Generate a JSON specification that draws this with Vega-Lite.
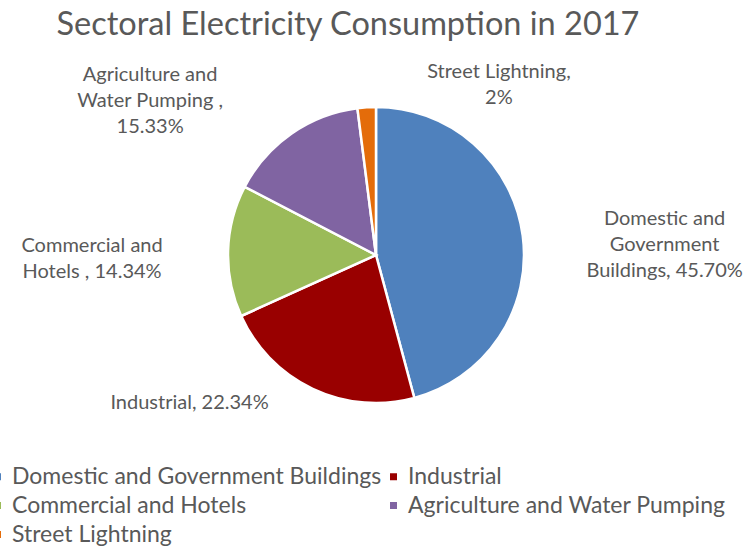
{
  "$schema": "https://vega.github.io/schema/vega-lite/v6.json",
  "autosize": {"type": "none"},
  "width": 744,
  "height": 400,
  "padding": {"left": 4, "top": 55, "right": 0, "bottom": 92},
  "background": "white",
  "title": {
    "text": "Sectoral Electricity Consumption in 2017",
    "font": "Lato",
    "fontSize": 32.5,
    "fontWeight": "normal",
    "color": "#595959",
    "anchor": "middle",
    "dx": -28,
    "offset": 14
  },
  "data": {
    "values": [
      {"sector": "Domestic and Government Buildings", "share": 45.70, "idx": 1, "label": ["Domestic and", "Government", "Buildings, 45.70%"]},
      {"sector": "Industrial", "share": 22.34, "idx": 2, "label": ["Industrial, 22.34%"]},
      {"sector": "Commercial and Hotels", "share": 14.34, "idx": 3, "label": ["Commercial and", "Hotels , 14.34%"]},
      {"sector": "Agriculture and Water Pumping", "share": 15.33, "idx": 4, "label": ["Agriculture and", "Water Pumping ,", "15.33%"]},
      {"sector": "Street Lightning", "share": 2, "idx": 5, "label": ["Street Lightning,", "2%"]}
    ]
  },
  "encoding": {
    "theta": {"field": "share", "type": "quantitative", "stack": true},
    "order": {"field": "idx", "type": "quantitative"}
  },
  "layer": [
    {
      "mark": {"type": "arc", "outerRadius": 148, "stroke": "white", "strokeWidth": 2.5},
      "encoding": {
        "color": {
          "field": "sector",
          "type": "nominal",
          "sort": ["Domestic and Government Buildings", "Industrial", "Commercial and Hotels", "Agriculture and Water Pumping", "Street Lightning"],
          "scale": {
            "domain": ["Domestic and Government Buildings", "Industrial", "Commercial and Hotels", "Agriculture and Water Pumping", "Street Lightning"],
            "range": ["#4F81BD", "#990000", "#9BBB59", "#8064A2", "#E46C0A"]
          },
          "legend": {
            "title": null,
            "orient": "none",
            "legendX": -18,
            "legendY": 410,
            "columns": 2,
            "direction": "horizontal",
            "symbolType": "square",
            "symbolSize": 49,
            "symbolStrokeWidth": 0,
            "labelFont": "Lato",
            "labelFontSize": 23,
            "labelColor": "#595959",
            "labelLimit": 500,
            "labelOffset": 3,
            "rowPadding": 5,
            "columnPadding": -6
          }
        }
      }
    },
    {
      "mark": {"type": "text", "radius": 160, "dx": 130, "dy": -15, "font": "Lato", "fontSize": 20, "color": "#595959", "lineHeight": 26, "align": "center", "baseline": "middle"},
      "encoding": {"text": {"condition": {"test": "datum.idx === 1", "field": "label"}, "value": ""}}
    },
    {
      "mark": {"type": "text", "radius": 160, "dx": -118, "dy": 3, "font": "Lato", "fontSize": 20, "color": "#595959", "lineHeight": 26, "align": "center", "baseline": "middle"},
      "encoding": {"text": {"condition": {"test": "datum.idx === 2", "field": "label"}, "value": ""}}
    },
    {
      "mark": {"type": "text", "radius": 160, "dx": -124, "dy": -5, "font": "Lato", "fontSize": 20, "color": "#595959", "lineHeight": 26, "align": "center", "baseline": "middle"},
      "encoding": {"text": {"condition": {"test": "datum.idx === 3", "field": "label"}, "value": ""}}
    },
    {
      "mark": {"type": "text", "radius": 40, "dx": -203, "dy": -147, "font": "Lato", "fontSize": 20, "color": "#595959", "lineHeight": 26, "align": "center", "baseline": "middle"},
      "encoding": {"text": {"condition": {"test": "datum.idx === 4", "field": "label"}, "value": ""}}
    },
    {
      "mark": {"type": "text", "radius": 160, "dx": 133, "dy": -23, "font": "Lato", "fontSize": 20, "color": "#595959", "lineHeight": 26, "align": "center", "baseline": "middle"},
      "encoding": {"text": {"condition": {"test": "datum.idx === 5", "field": "label"}, "value": ""}}
    }
  ]
}
